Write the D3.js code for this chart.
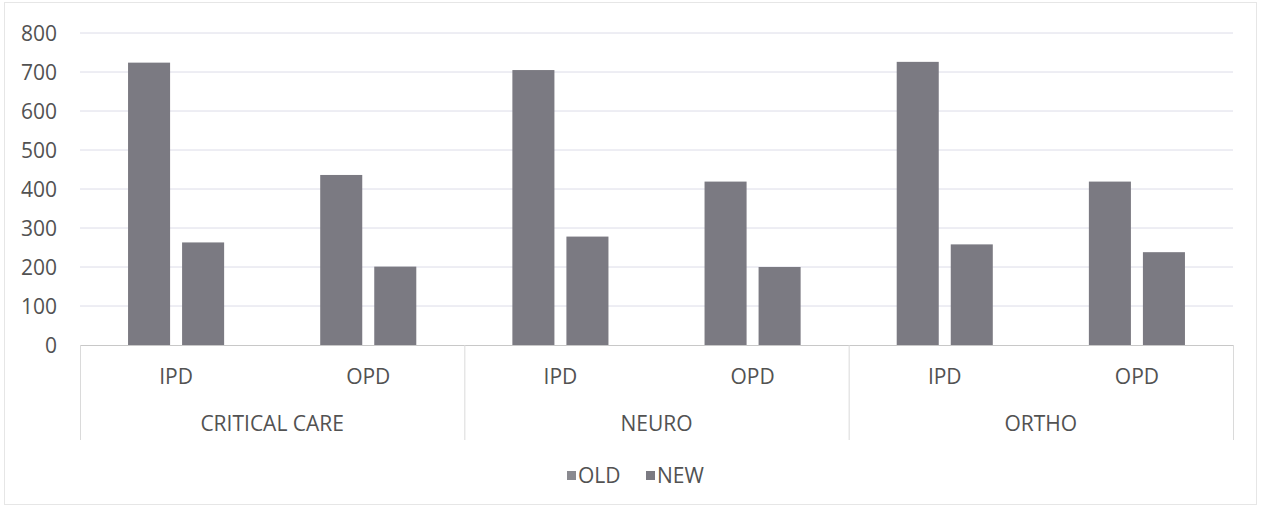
<!DOCTYPE html>
<html><head><meta charset="utf-8">
<script src="https://cdn.jsdelivr.net/npm/d3@7"></script>
<style>body{margin:0;background:#fff}svg{display:block}text{font-family:"Open Sans",sans-serif;fill:#525252}</style>
</head><body><svg id="c" width="1263" height="512"></svg>
<script>
const groups = ["CRITICAL CARE", "NEURO", "ORTHO"];
const subcats = ["IPD", "OPD"];
const series = ["OLD", "NEW"];
const oldValues = [724, 436, 705, 419, 726, 419];
const newValues = [263, 201, 278, 200, 258, 238];
const yTicks = [0, 100, 200, 300, 400, 500, 600, 700, 800];

const svg = d3.select("#c");
const plotLeft = 80, plotRight = 1233, plotTop = 33, plotBottom = 345;
const barColor = "#7b7a82";
const fs = "21px";

// outer border
svg.append("rect").attr("x", 4.5).attr("y", 2.5).attr("width", 1252).attr("height", 502)
  .attr("fill", "none").attr("stroke", "#e6e6e6");

const rows = [];
groups.forEach((g, gi) => subcats.forEach((s, si) => rows.push({g, s, key: g + "|" + s, OLD: oldValues[gi*2+si], NEW: newValues[gi*2+si]})));

const x0 = d3.scaleBand().domain(rows.map(d => d.key)).range([plotLeft, plotRight]);
const x1 = d3.scaleBand().domain(series).range([0, x0.bandwidth()]).paddingInner(0.222).paddingOuter(0.889);
const xg = d3.scaleBand().domain(groups).range([plotLeft, plotRight]);
const y = d3.scaleLinear().domain([0, 800]).range([plotBottom, plotTop]);

// gridlines
svg.append("g").selectAll("line").data(yTicks.filter(t => t > 0)).join("line")
  .attr("x1", plotLeft).attr("x2", plotRight).attr("y1", d => y(d)).attr("y2", d => y(d))
  .attr("stroke", "#dcdce8").attr("stroke-width", 1);

// y axis labels
const yAxis = d3.axisLeft(y).tickValues(yTicks).tickSize(0).tickPadding(0);
const ya = svg.append("g").attr("transform", `translate(${plotLeft-23},0)`).call(yAxis);
ya.select(".domain").remove();
ya.selectAll("text").style("font-size", fs).style("font-family", "'Open Sans',sans-serif").attr("fill", "#525252").attr("dy", "0.35em");

// bars
const bg = svg.append("g").selectAll("g").data(rows).join("g")
  .attr("transform", d => `translate(${x0(d.key)},0)`);
bg.selectAll("rect").data(d => series.map(k => ({k, v: d[k]}))).join("rect")
  .attr("x", d => x1(d.k)).attr("width", x1.bandwidth())
  .attr("y", d => y(d.v)).attr("height", d => y(0) - y(d.v))
  .attr("fill", barColor);

// baseline & category box
svg.append("line").attr("x1", plotLeft).attr("x2", plotRight).attr("y1", plotBottom + 0.5).attr("y2", plotBottom + 0.5).attr("stroke", "#c8c8c8");
const divs = groups.map(g => xg(g)).concat([plotRight]);
svg.append("g").selectAll("line").data(divs).join("line")
  .attr("x1", d => d + 0.5).attr("x2", d => d + 0.5).attr("y1", plotBottom).attr("y2", 440)
  .attr("stroke", "#dadada");

// sub labels
svg.append("g").selectAll("text").data(rows).join("text")
  .attr("x", d => x0(d.key) + x0.bandwidth()/2).attr("y", 384)
  .attr("text-anchor", "middle").style("font-size", fs).text(d => d.s);
// group labels
svg.append("g").selectAll("text").data(groups).join("text")
  .attr("x", d => xg(d) + xg.bandwidth()/2).attr("y", 431)
  .attr("text-anchor", "middle").style("font-size", fs).text(d => d);

// legend
const legX = [567, 646];
series.forEach((s, i) => {
  svg.append("rect").attr("x", legX[i]).attr("y", 471).attr("width", 9).attr("height", 9).attr("fill", i === 0 ? "#8a8a90" : barColor);
  svg.append("text").attr("x", legX[i] + 11).attr("y", 483).style("font-size", fs).text(s);
});
</script></body></html>
